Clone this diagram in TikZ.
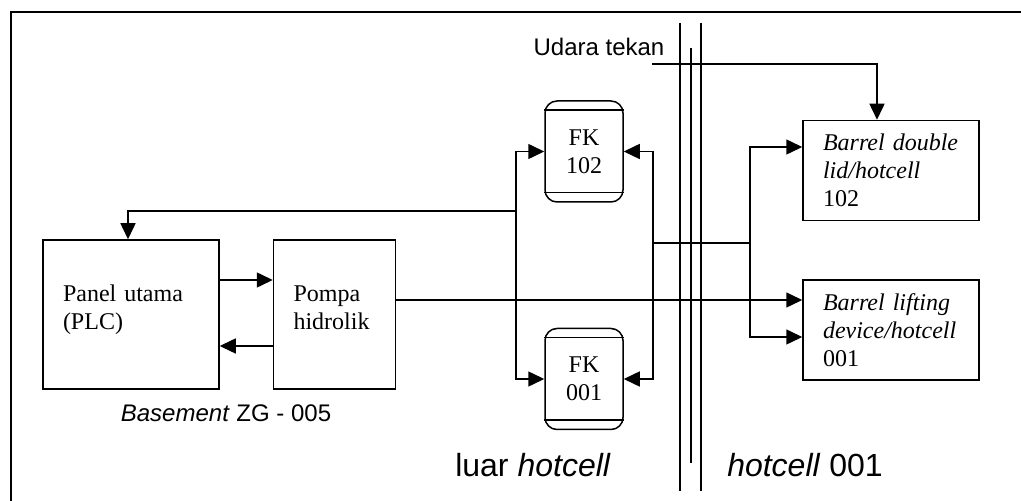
\documentclass[tikz,border=0pt]{standalone}
\usepackage{fontspec}
\setmainfont{Liberation Serif}
\setsansfont{Liberation Sans}
\usepackage{tikz}
\usetikzlibrary{arrows.meta,positioning}

\begin{document}
\begin{tikzpicture}[x=0.5pt, y=-0.5pt, every node/.style={font=\fontsize{12}{14}\selectfont}, unit/.style={rectangle, draw=black, line width=0.75pt, minimum width=88pt, minimum height=50pt, text width=68pt, align=left}, valve/.style={rectangle, rounded corners=6pt, draw=black, line width=0.75pt, minimum width=39pt, minimum height=50.5pt, align=center}, line/.style={-{Triangle[length=8pt, width=7.5pt]}, line width=0.75pt}, wire/.style={line width=0.75pt}, label/.style={font=\sffamily\fontsize{12}{14}\selectfont}]
\useasboundingbox (0,0) rectangle (1021,501);
\draw[line width=1pt] (11,501) -- (11,12) -- (1021,12);

% basement
\node[unit, minimum height=74.5pt] (panel) at (131,314.5) {Panel utama\\(PLC)\\[-7pt]\mbox{}};
\node[unit, minimum width=61pt, minimum height=74.5pt, text width=41pt, right=26.5pt of panel] (pompa) {Pompa\\hidrolik\\[-7pt]\mbox{}};
\node[label] (basement) at (226,413) {\textit{Basement} ZG - 005};

% katup
\node[valve] (fk102) at (584,151.5) {FK\\102};
\node[valve, below=62.5pt of fk102] (fk001) {FK\\001};
\foreach \v in {fk102,fk001} {
  \draw[wire] ([yshift=-5pt]\v.north west) -- ([yshift=-5pt]\v.north east);
  \draw[wire] ([yshift=5pt]\v.south west) -- ([yshift=5pt]\v.south east);
}

% hotcell
\node[unit] (dbl) at (891,170.5) {\textit{Barrel double lid/hotcell}\\102};
\node[unit, below=29pt of dbl] (lift) {\textit{Barrel lifting device/hotcell}\\001};

% dinding
\draw[wire] (680,23) -- (680,491);
\draw[wire] (691,48) -- (691,463);
\draw[wire] (701,23) -- (701,491);
\node[label, font=\sffamily\fontsize{16}{19}\selectfont] (luar) at (533,465) {luar \textit{hotcell}};
\node[label, font=\sffamily\fontsize{16}{19}\selectfont] (dalam) at (805,465) {\textit{hotcell} 001};

\coordinate (tapL) at (516,211);
\coordinate (tapR) at (653,243);
\coordinate (tapB) at (750,243);
\coordinate (udara) at (652,64);
\node[label] (udaratxt) at (599,47) {Udara tekan};

\draw[line] (panel.east |- 0,280) -- (pompa.west |- 0,280);
\draw[line] (pompa.west |- 0,346) -- (panel.east |- 0,346);
\draw[line] (pompa.east |- 0,300) -- (lift.west |- 0,300);
\draw[line] (tapL) -| ([xshift=-1.5pt]panel.north);
\draw[line] (tapL) |- (fk102.west);
\draw[line] (tapL) |- (fk001.west);
\draw[line] (tapR) |- (fk102.east);
\draw[line] (tapR) |- (fk001.east);
\draw[wire] (tapR) -- (tapB);
\draw[line] (tapB) |- (dbl.west |- 0,147);
\draw[line] (tapB) |- (lift.west |- 0,337);
\draw[line] (udara) -| ([xshift=-7pt]dbl.north);
\end{tikzpicture}
\end{document}
